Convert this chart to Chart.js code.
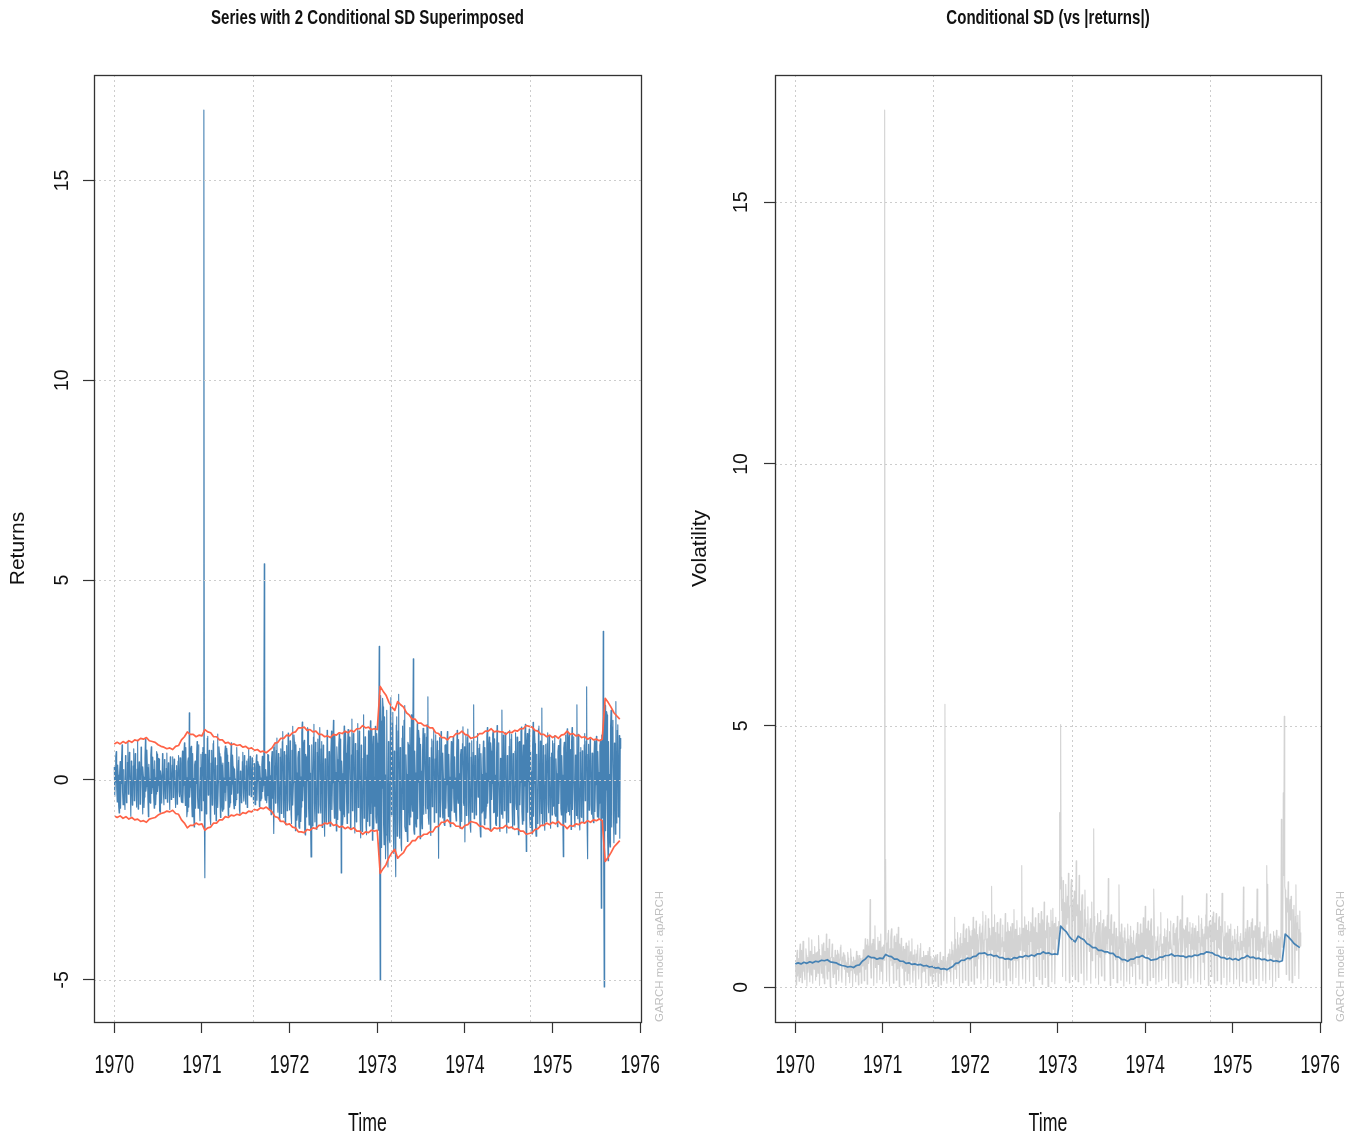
<!DOCTYPE html>
<html><head><meta charset="utf-8">
<script src="https://cdn.jsdelivr.net/npm/chart.js@4.4.1/dist/chart.umd.min.js"></script>
<style>
html,body{margin:0;padding:0;background:#fff}
body{width:1357px;height:1140px;position:relative;overflow:hidden}
canvas{position:absolute;top:0}
</style></head><body>
<canvas id="left" width="680" height="1140" style="left:0;width:680px;height:1140px"></canvas>
<canvas id="right" width="677" height="1140" style="left:680px;width:677px;height:1140px"></canvas>
<script>
// ---- data ----
const tsStart = 1970;
const returnsPerYear = 180;
const sigmaPerYear = 30;

const returns = [
0.32,-0.41,-0.05,0.58,0.71,-0.22,-0.55,0.37,0.12,-0.66, -0.83,0.19,0.46,-0.71,-0.09,0.52,0.88,-0.31,-0.62,0.26,
0.15,-0.48,-0.74,0.61,0.03,-0.57,-0.29,0.44,0.95,-0.36, -0.11,0.69,0.38,-0.24,-0.91,0.47,0.08,-0.63,-0.47,0.35,
0.78,-0.52,-0.14,0.66,0.21,-0.39,-0.68,0.27,0.99,-0.73, -0.04,0.45,0.44,-0.61,-0.27,0.82,0.69,-0.18,-0.85,0.33,
0.07,-0.69,-0.43,0.54,1.02,-0.28,-0.16,0.75,0.31,-0.47, -0.92,0.39,0.02,-0.55,-0.58,0.63,0.83,-0.34,-0.19,0.57,
0.26,-0.44,-0.71,0.48,0.06,-0.62,-0.35,0.71,0.64,-0.29, -0.13,0.54,0.52,-0.77,-0.81,0.23,0.10,-0.58,-0.49,0.66,
0.44,-0.35,-0.62,0.51,0.04,-0.47,-0.38,0.29,0.67,-0.56, -0.21,0.43,0.09,-0.32,-0.74,0.58,0.33,-0.49,-0.02,0.37,
0.58,-0.44,-0.27,0.52,0.11,-0.38,-0.69,0.24,0.36,-0.61, -0.05,0.47,0.61,-0.29,-0.42,0.55,0.08,-0.36,-0.56,0.41,
0.72,-0.57,-0.13,0.64,0.93,-0.35,-0.64,0.81,0.06,-0.92, -0.79,0.46,0.55,-0.68,1.68,-0.43,-0.18,0.77,0.84,-0.59,
-0.92,0.66,0.04,-0.83,-1.18,0.38,0.47,-0.71,-0.09,0.59, 0.96,-0.44,-0.71,0.88,0.15,-0.62,-1.02,0.31,0.64,-0.77,
-0.07,0.69,0.81,-0.52,16.76,-0.91,-2.45,0.64,0.12,-0.85, -0.67,1.04,1.09,-0.38,-0.03,0.74,0.51,-0.96,-1.12,0.42,
0.74,-0.63,-0.08,0.91,0.98,-0.47,-0.86,0.55,0.14,-1.02, -0.71,0.36,1.15,-0.69,-0.02,0.83,0.66,-0.41,-0.94,0.58,
0.37,-0.64,-0.78,0.42,0.05,-0.73,-0.31,0.67,0.85,-0.52, -0.13,0.79,0.62,-0.27,-0.89,0.44,0.06,-0.68,-0.57,0.51,
0.93,-0.36,-0.10,0.62,0.33,-0.55,-0.72,0.28,0.03,-0.64, -0.49,0.71,0.81,-0.33,-0.16,0.49,0.58,-0.75,-0.84,0.22,
0.01,-0.57,-0.29,0.46,0.69,-0.31,-0.53,0.61,0.09,-0.44, -0.61,0.36,0.47,-0.69,-0.04,0.53,0.76,-0.38,-0.22,0.59,
0.49,-0.42,-0.07,0.55,0.27,-0.33,-0.58,0.41,0.12,-0.62, -0.44,0.29,0.63,-0.51,-0.02,0.46,0.38,-0.27,-0.67,0.34,
0.05,-0.52,-0.46,0.37,0.59,-0.29,-0.13,0.48,5.41,-0.39, -0.51,0.26,0.08,-0.57,-0.39,0.64,0.62,-0.31,-0.73,0.45,
0.11,-0.64,-0.87,0.53,0.71,-0.46,-0.06,0.82,-1.34,0.35, 0.92,-0.58,-0.17,0.74,1.05,-0.43,-0.81,0.66,0.03,-0.95,
-1.03,0.57,0.78,-0.84,-0.09,0.96,1.21,-0.49,-0.94,0.71, 0.14,-1.08,-1.12,0.63,0.86,-0.77,-0.04,1.17,1.08,-0.52,
-0.75,0.98,0.12,-0.86,-1.09,0.74,1.34,-0.63,-0.06,1.12, 0.95,-0.41,-1.27,0.88,0.18,-1.01,-0.87,0.55,0.71,-1.16,
-1.21,0.79,0.08,-1.04,-0.68,1.18,1.45,-0.52,-0.15,0.91, 0.99,-1.26,-1.38,0.64,0.57,-0.93,-0.02,1.31,1.26,-0.71,
-1.13,0.86,0.17,-0.99,-1.93,0.72,0.88,-1.15,-0.05,1.07, 1.39,-0.58,-1.05,0.94,0.11,-1.22,-1.24,0.69,1.02,-0.83,
-0.09,1.14,1.31,-0.62,-0.83,0.78,0.96,-1.19,-0.14,0.87, 0.69,-0.95,-1.41,0.53,0.04,-1.06,-0.58,1.24,1.08,-0.37,
-1.07,0.71,0.13,-1.16,-0.89,0.59,1.22,-0.74,-0.07,0.93, 1.49,-0.52,-0.96,1.11,0.19,-0.68,-1.28,0.83,0.51,-0.99,
-0.04,0.88,1.14,-0.71,-0.77,1.02,-2.33,0.47,0.16,-1.13, -0.86,0.69,1.35,-0.92,-0.08,1.19,0.67,-0.54,-1.09,0.82,
1.26,-0.83,-0.12,1.07,0.88,-1.24,-1.19,0.63,1.52,-0.77, -0.03,1.16,1.07,-0.58,-1.33,0.91,0.21,-1.05,-0.98,0.74,
1.41,-0.69,-0.15,1.22,0.76,-1.01,-1.45,0.87,0.06,-1.29, -1.12,0.54,1.63,-0.96,-0.19,1.08,0.95,-1.18,-1.37,0.62,
0.02,-1.04,1.23,-0.61,-1.15,0.98,1.48,-0.84,-0.11,1.27, -1.51,0.73,1.09,-1.22,0.07,-0.66,1.34,-0.93,-1.08,1.16,
0.92,-0.71,-1.26,1.13,3.34,-1.88,-5.02,2.11,1.47,-1.69, -0.21,2.04,1.83,-1.12,-1.62,1.58,0.13,-1.97,-1.38,1.21,
1.74,-1.33,-2.18,0.96,0.09,-1.51,-1.57,1.86,2.06,-0.87, -0.24,1.42,1.69,-1.28,-1.84,0.72,0.15,-1.63,-2.42,1.37,
1.58,-1.41,-0.11,1.23,2.14,-0.98,-1.46,0.81,0.27,-1.62, -1.77,1.05,1.35,-0.74,-0.05,1.49,1.86,-1.17,-1.29,0.63,
0.14,-1.22,-1.54,0.94,0.87,-0.69,-1.12,1.31,0.08,-0.93, 1.63,-0.51,-0.78,1.06,3.03,-1.24,-1.36,0.72,0.18,-1.05,
-1.18,0.63,1.41,-0.97,-0.06,1.24,1.05,-0.58,-1.47,0.89, 0.22,-1.03,-1.22,0.71,1.29,-0.86,-0.13,1.12,1.16,-0.64,
-0.84,1.07,1.38,-0.72,2.08,-0.94,-1.11,0.56,0.04,-1.23, -1.39,0.81,1.02,-0.67,-0.17,0.98,1.25,-1.06,-0.66,0.53,
1.13,-0.82,-0.09,0.97,0.79,-0.61,-1.96,0.74,1.06,-0.93, -0.14,1.21,1.19,-0.48,-0.95,0.67,0.03,-1.08,-1.14,0.86,
0.88,-0.71,-0.12,0.93,1.21,-0.52,-0.92,0.64,0.07,-0.99, -1.17,0.41,0.96,-0.77,-0.21,0.85,1.08,-0.46,-0.81,0.58,
0.05,-0.87,-1.03,0.69,1.24,-0.44,-0.58,1.01,0.16,-0.73, -1.21,0.62,0.76,-1.04,-0.08,0.91,1.33,-0.57,-0.64,0.83,
-1.55,0.74,1.12,-0.89,-0.04,1.06,1.27,-0.63,-1.08,0.92, 0.13,-1.19,-1.31,0.57,0.98,-0.81,-0.19,0.69,1.88,-0.97,
-0.94,0.61,0.06,-0.88,-0.71,0.97,1.16,-0.43,-0.11,0.79, 0.89,-1.02,-1.43,0.66,0.14,-0.83,-0.78,0.52,0.97,-0.69,
-1.12,0.81,0.17,-0.96,-0.66,1.09,1.31,-0.58,-0.03,0.87, 1.07,-0.74,-1.27,0.93,0.72,-0.49,-0.09,1.14,1.22,-0.82,
-0.81,1.03,0.12,-1.09,-1.14,0.66,1.36,-0.91,-0.07,0.78, 0.93,-1.21,-1.29,0.54,0.02,-0.86,1.75,-0.68,-0.96,1.12,
1.09,-0.77,-0.14,1.18,0.77,-0.92,-1.33,0.61,0.05,-1.06, -1.01,0.84,1.24,-0.57,-0.18,1.02,1.14,-0.73,-1.22,0.66,
0.08,-1.13,-0.99,0.72,1.18,-0.59,-0.74,1.07,0.11,-0.86, -1.37,0.94,0.96,-0.62,-0.06,1.21,1.32,-0.79,-1.11,0.48,
0.87,-1.02,-0.15,1.16,1.39,-0.68,-1.79,0.93,1.16,-0.81, -0.04,1.07,1.27,-0.96,-1.19,0.71,0.21,-1.14,-1.35,0.88,
1.44,-0.91,-0.08,1.23,0.91,-1.17,-1.41,0.64,0.13,-1.09, -0.76,1.28,1.35,-0.73,-1.17,0.97,0.06,-0.84,1.80,-1.06,
-1.13,0.86,0.19,-0.97,-1.26,0.63,0.89,-1.04,-0.05,0.92, 1.18,-0.61,-0.82,1.11,0.11,-0.94,-1.21,0.57,0.67,-0.88,
0.98,-0.66,-0.07,0.91,1.11,-0.84,-0.91,0.53,0.16,-1.02, -1.17,0.71,0.86,-0.59,-0.03,0.97,1.03,-0.72,-0.88,0.61,
0.12,-0.93,-1.92,0.79,0.94,-0.67,-1.06,1.12,0.09,-0.82, 1.28,-0.54,-0.79,1.03,1.15,-0.88,-0.14,0.76,-1.24,0.95,
1.31,-0.74,-0.06,1.08,1.07,-0.96,-1.18,0.62,0.17,-0.89, 1.88,-0.71,-0.97,1.14,0.04,-1.03,-1.25,0.69,0.81,-0.92,
-0.94,0.73,0.13,-1.06,-0.77,0.88,1.16,-0.52,-0.08,0.97, 2.33,-1.21,-1.97,0.64,0.89,-0.76,-0.15,1.02,0.73,-0.63,
-0.86,0.67,0.02,-0.91,-1.07,0.58,0.98,-0.79,-0.12,0.84, 1.09,-0.47,-0.93,0.71,0.19,-0.98,-0.58,0.86,0.96,-0.54,
-3.21,1.12,0.77,-0.95,3.72,-2.14,-5.18,1.93,1.86,-1.27, -0.25,1.71,1.62,-1.44,-2.02,0.96,0.14,-1.53,-1.68,1.29,
1.74,-1.18,-0.09,1.33,1.49,-0.86,-1.57,0.92,0.23,-1.36, 1.96,-0.71,-1.08,1.24,1.38,-0.93,-0.17,1.11,-1.46,0.79,
1.05
];

const sigma = [
0.45,0.47,0.45,0.48,0.46,0.49,0.47,0.50,0.49,0.52,
0.51,0.53,0.49,0.48,0.47,0.44,0.42,0.41,0.39,0.40,
0.38,0.42,0.43,0.50,0.54,0.60,0.57,0.57,0.54,0.56,
0.55,0.63,0.60,0.59,0.54,0.54,0.50,0.50,0.46,0.47,
0.44,0.45,0.43,0.44,0.41,0.42,0.39,0.40,0.37,0.38,
0.35,0.36,0.34,0.37,0.40,0.46,0.47,0.52,0.52,0.56,
0.55,0.59,0.60,0.65,0.65,0.66,0.62,0.63,0.60,0.61,
0.57,0.57,0.54,0.55,0.53,0.57,0.56,0.59,0.58,0.61,
0.59,0.62,0.60,0.64,0.64,0.68,0.65,0.66,0.63,0.64,
0.63,1.17,1.11,1.06,0.97,0.91,0.87,0.98,0.94,0.91,
0.84,0.81,0.76,0.76,0.71,0.71,0.68,0.68,0.65,0.65,
0.59,0.58,0.53,0.53,0.50,0.54,0.54,0.58,0.58,0.61,
0.57,0.56,0.52,0.53,0.54,0.58,0.58,0.61,0.61,0.64,
0.60,0.61,0.60,0.60,0.57,0.60,0.59,0.62,0.61,0.64,
0.64,0.68,0.67,0.66,0.62,0.61,0.57,0.57,0.54,0.56,
0.53,0.55,0.52,0.56,0.57,0.61,0.57,0.58,0.55,0.56,
0.53,0.54,0.51,0.53,0.50,0.51,0.49,0.51,1.02,0.97,
0.91,0.84,0.80,0.76
];

const xTickYears = [1970, 1971, 1972, 1973, 1974, 1975, 1976];
const gridYears = [1970, 1971.58, 1973.16, 1974.74];
const returnsYTicks = [-5, 0, 5, 10, 15];
const volatilityYTicks = [0, 5, 10, 15];
const panelTitles = ['Series with 2 Conditional SD Superimposed', 'Conditional SD (vs |returns|)'];
const yTitles = ['Returns', 'Volatility'];
const xTitle = 'Time';
const watermark = 'GARCH model : apARCH';

// ---- build points ----
const tAt = (i, f) => tsStart + i / f;
const retPts = returns.map((v, i) => ({x: tAt(i, returnsPerYear), y: v}));
const absPts = returns.map((v, i) => ({x: tAt(i, returnsPerYear), y: Math.abs(v)}));
const upPts = sigma.map((s, i) => ({x: tAt(i, sigmaPerYear), y: 2 * s}));
const loPts = sigma.map((s, i) => ({x: tAt(i, sigmaPerYear), y: -2 * s}));
const sigPts = sigma.map((s, i) => ({x: tAt(i, sigmaPerYear), y: s}));

const tEnd = tAt(returns.length - 1, returnsPerYear);
const xPad = 0.04 * (tEnd - tsStart);
function padRange(vals) {
  const lo = Math.min(...vals), hi = Math.max(...vals), p = 0.04 * (hi - lo);
  return [lo - p, hi + p];
}
const leftRange = padRange([...returns, ...upPts.map(p => p.y), ...loPts.map(p => p.y)]);
const rightRange = padRange([...absPts.map(p => p.y), ...sigma]);

function condensedText(ctx, text, x, y, font, sx) {
  ctx.save();
  ctx.translate(x, y);
  ctx.scale(sx, 1);
  ctx.font = font;
  ctx.textAlign = 'center';
  ctx.textBaseline = 'middle';
  ctx.fillText(text, 0, 0);
  ctx.restore();
}

const rDecor = {
  id: 'rDecor',
  afterDatasetsDraw(chart, args, o) {
    const {ctx, chartArea: a, scales: {x, y}} = chart;
    ctx.save();
    ctx.beginPath(); ctx.rect(a.left, a.top, a.width, a.height); ctx.clip();
    ctx.strokeStyle = '#cdcdcd'; ctx.lineWidth = 1; ctx.setLineDash([2, 3]);
    ctx.beginPath();
    for (const v of gridYears) { const p = Math.round(x.getPixelForValue(v)) + 0.5; ctx.moveTo(p, a.top); ctx.lineTo(p, a.bottom); }
    for (const v of o.yTicks) { const p = Math.round(y.getPixelForValue(v)) + 0.5; ctx.moveTo(a.left, p); ctx.lineTo(a.right, p); }
    ctx.stroke();
    ctx.restore();
  },
  afterDraw(chart, args, o) {
    const {ctx, chartArea: a, scales: {x, y}} = chart;
    ctx.save();
    ctx.setLineDash([]);
    ctx.strokeStyle = '#333'; ctx.lineWidth = 1.3;
    ctx.strokeRect(Math.round(a.left) + 0.5, Math.round(a.top) + 0.5, Math.round(a.width), Math.round(a.height));
    ctx.fillStyle = '#111';
    const cx = (a.left + a.right) / 2;
    condensedText(ctx, o.title, cx, 18, 'bold 21px "Liberation Sans", Arial, sans-serif', 0.717);
    for (const v of xTickYears) condensedText(ctx, String(v), x.getPixelForValue(v), 1066, '25px "Liberation Sans", Arial, sans-serif', 0.71);
    condensedText(ctx, xTitle, cx, 1124, '25px "Liberation Sans", Arial, sans-serif', 0.71);
    ctx.textAlign = 'center'; ctx.textBaseline = 'middle';
    ctx.font = '19.5px "Liberation Sans", Arial, sans-serif';
    for (const v of o.yTicks) {
      ctx.save(); ctx.translate(o.yLabelX, y.getPixelForValue(v)); ctx.rotate(-Math.PI / 2);
      ctx.fillText(String(v), 0, 0); ctx.restore();
    }
    ctx.font = '21px "Liberation Sans", Arial, sans-serif';
    ctx.save(); ctx.translate(o.yTitleX, (a.top + a.bottom) / 2); ctx.rotate(-Math.PI / 2);
    ctx.fillText(o.yTitle, 0, 0); ctx.restore();
    ctx.fillStyle = '#c0c0c0'; ctx.font = '11.5px "Liberation Sans", Arial, sans-serif';
    ctx.textAlign = 'left';
    ctx.save(); ctx.translate(o.wmX, a.bottom); ctx.rotate(-Math.PI / 2);
    ctx.fillText(watermark, 0, 0); ctx.restore();
    ctx.restore();
  }
};

function makeScales(yr, yTicks, yAxisWidth) {
  const gridOpts = {drawOnChartArea: false, drawTicks: true, tickLength: 11, tickColor: '#333', tickWidth: 1.2};
  return {
    x: {
      type: 'linear', min: tsStart - xPad, max: tEnd + xPad,
      afterBuildTicks: s => { s.ticks = xTickYears.map(v => ({value: v})); },
      afterFit: s => { s.height = 118; },
      ticks: {display: false}, grid: gridOpts, border: {display: false}
    },
    y: {
      type: 'linear', min: yr[0], max: yr[1],
      afterBuildTicks: s => { s.ticks = yTicks.map(v => ({value: v})); },
      afterFit: s => { s.width = yAxisWidth; },
      ticks: {display: false}, grid: gridOpts, border: {display: false}
    }
  };
}

const common = {
  responsive: false, animation: false, devicePixelRatio: 1, events: [],
  parsing: false, normalized: true,
  elements: {point: {radius: 0}, line: {tension: 0, borderJoinStyle: 'round'}}
};

new Chart(document.getElementById('left'), {
  type: 'line',
  data: {datasets: [
    {data: upPts, borderColor: '#FF6347', borderWidth: 1.7, order: 0},
    {data: loPts, borderColor: '#FF6347', borderWidth: 1.7, order: 0},
    {data: retPts, borderColor: '#4682B4', borderWidth: 1.1, order: 1}
  ]},
  options: Object.assign({}, common, {
    layout: {padding: {top: 75, left: 0, right: 39, bottom: 0}},
    scales: makeScales(leftRange, returnsYTicks, 94),
    plugins: {legend: {display: false}, tooltip: {enabled: false},
      rDecor: {title: panelTitles[0], yTitle: yTitles[0], yTicks: returnsYTicks, yLabelX: 63, yTitleX: 18.5, wmX: 660}}
  }),
  plugins: [rDecor]
});

new Chart(document.getElementById('right'), {
  type: 'line',
  data: {datasets: [
    {data: sigPts, borderColor: '#4682B4', borderWidth: 1.7, order: 0},
    {data: absPts, borderColor: '#D3D3D3', borderWidth: 1.1, order: 1}
  ]},
  options: Object.assign({}, common, {
    layout: {padding: {top: 75, left: 0, right: 36, bottom: 0}},
    scales: makeScales(rightRange, volatilityYTicks, 95),
    plugins: {legend: {display: false}, tooltip: {enabled: false},
      rDecor: {title: panelTitles[1], yTitle: yTitles[1], yTicks: volatilityYTicks, yLabelX: 62, yTitleX: 20, wmX: 661}}
  }),
  plugins: [rDecor]
});
</script>
</body></html>
